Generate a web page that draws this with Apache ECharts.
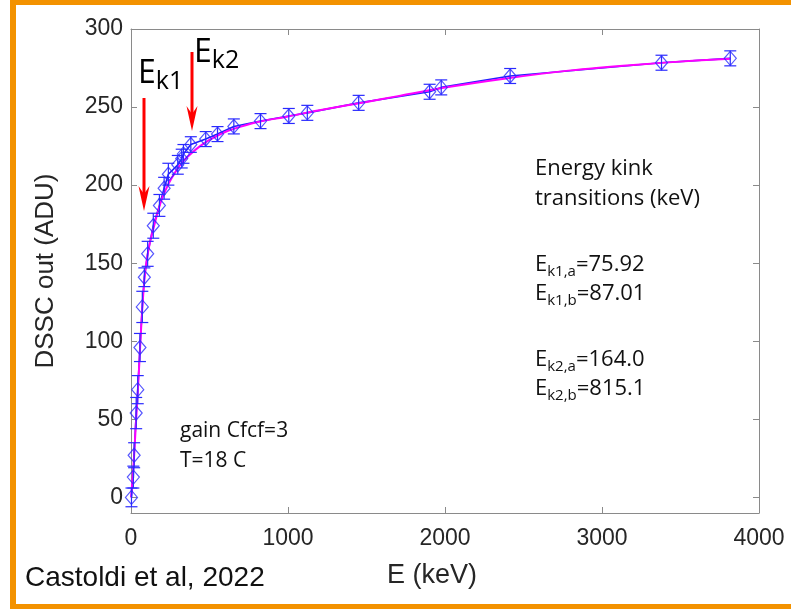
<!DOCTYPE html>
<html>
<head>
<meta charset="utf-8">
<script src="https://cdn.jsdelivr.net/npm/echarts@6/dist/echarts.min.js"></script>
<style>html,body{margin:0;padding:0;background:#fff;}#c{width:791px;height:609px;}</style>
</head>
<body>
<div id="c"></div>
<script>
// ---- data ----
const energyKeV = [3, 15, 20, 33, 43, 57, 72, 85, 106, 142, 181, 211, 238, 298, 323, 334, 381, 476, 551, 655, 825, 1005, 1123, 1450, 1902, 1976, 2415, 3379, 3817];
const dsscADU   = [0, 13, 27, 54, 69, 96, 122, 141, 156, 174, 187, 198, 207, 213, 217, 220, 226, 229.5, 232.7, 237.6, 241, 244.3, 246.3, 252.7, 259.8, 262.6, 269.9, 278.4, 281.2];
const errADU    = [6, 7, 8, 10, 9, 9, 10, 6, 8, 8, 7, 7, 7, 6, 6, 6, 5, 4.8, 4.8, 4.8, 4.8, 4.8, 4.8, 4.8, 4.8, 4.8, 4.8, 4.8, 4.8];
const fitE   = [0, 10, 20, 30, 40, 50, 60, 70, 80, 90, 100, 120, 140, 160, 180, 200, 240, 280, 330, 380, 440, 500, 600, 700, 800, 1000, 1200, 1500, 1700, 2000, 2400, 2800, 3200, 3600, 3820];
const fitADU = [0, 12, 27, 45, 62, 80, 100, 118, 133, 144, 152, 163, 171, 179, 186, 192, 201, 208, 215, 220, 225, 229, 234, 237.5, 240.3, 244, 248, 253.3, 257, 262.5, 268.5, 273.5, 277, 279.8, 281];
const xTicks = [0, 1000, 2000, 3000, 4000];
const yTicks = [0, 50, 100, 150, 200, 250, 300];
const kinkLines = [['Energy kink'], ['transitions (keV)'], ['k1,a', '=75.92'], ['k1,b', '=87.01'], ['k2,a', '=164.0'], ['k2,b', '=815.1']];

const chart = echarts.init(document.getElementById('c'), null, {renderer: 'canvas'});
const frame = '#8a8a8a';
const labelFont = 'Liberation Sans';
const annFont = 'Open Sans';

const pts = energyKeV.map((e, i) => [e, dsscADU[i]]);
const errData = energyKeV.map((e, i) => [e, dsscADU[i] - errADU[i], dsscADU[i] + errADU[i]]);
const fitData = fitE.map((e, i) => [e, fitADU[i]]);

const tickCommon = {show: true, inside: true, length: 6, lineStyle: {color: frame, width: 1}};

function kinkText(line) {
  if (line.length === 1) return line[0];
  return '{e|E}{s|' + line[0] + '}{e|' + line[1] + '}';
}
const lineTops = [158, 188, 254, 283, 349, 378];
const rightTexts = kinkLines.map((ln, i) => ({
  type: 'text', left: 535, top: lineTops[i], z: 100,
  style: {
    text: kinkText(ln), fill: '#111', font: '22px "' + annFont + '"',
    rich: {
      e: {fontSize: 22, fontFamily: annFont, lineHeight: 28, fill: '#111'},
      s: {fontSize: 15, fontFamily: annFont, lineHeight: 14, verticalAlign: 'bottom', fill: '#111'}
    }
  }
}));

function arrow(x, yTop, yTip) {
  return [
    {type: 'line', z: 100, shape: {x1: x, y1: yTop, x2: x, y2: yTip - 16}, style: {stroke: '#ff0000', lineWidth: 3}},
    {type: 'polygon', z: 100, shape: {points: [[x - 5.5, yTip - 25], [x, yTip - 17], [x + 5.5, yTip - 25], [x, yTip]]}, style: {fill: '#ff0000'}}
  ];
}

const option = {
  animation: false,
  backgroundColor: '#fff',
  grid: {left: 131, right: 32, top: 29, bottom: 96, show: false},
  xAxis: [{
    type: 'value', min: 0, max: 4000, interval: 1000, position: 'bottom',
    axisLine: {show: true, onZero: false, lineStyle: {color: frame, width: 1}},
    axisTick: tickCommon, splitLine: {show: false},
    axisLabel: {show: true, fontFamily: labelFont, fontSize: 23, color: '#262626', margin: 14,
      customValues: xTicks, formatter: function (v) { return String(v); }}
  }, {
    type: 'value', min: 0, max: 4000, interval: 1000, position: 'top',
    axisLine: {show: true, onZero: false, lineStyle: {color: frame, width: 1}},
    axisTick: tickCommon, axisLabel: {show: false}, splitLine: {show: false}
  }],
  yAxis: [{
    type: 'value', min: -10, max: 300, position: 'left',
    axisLine: {show: true, onZero: false, lineStyle: {color: frame, width: 1}},
    axisTick: Object.assign({customValues: yTicks}, tickCommon), splitLine: {show: false},
    axisLabel: {show: true, fontFamily: labelFont, fontSize: 23, color: '#262626', margin: 8,
      customValues: yTicks, formatter: function (v) { return String(v); }}
  }, {
    type: 'value', min: -10, max: 300, position: 'right',
    axisLine: {show: true, onZero: false, lineStyle: {color: frame, width: 1}},
    axisTick: Object.assign({customValues: yTicks}, tickCommon), axisLabel: {show: false}, splitLine: {show: false}
  }],
  series: [
    {
      type: 'line', data: pts, showSymbol: false, symbol: 'none', z: 2,
      lineStyle: {color: '#2020ff', width: 1.6}
    },
    {
      type: 'line', data: fitData, showSymbol: false, symbol: 'none', z: 3, smooth: 0.3,
      lineStyle: {color: '#ff00ff', width: 2}
    },
    {
      type: 'custom', data: errData, z: 4,
      renderItem: function (params, api) {
        const x = api.value(0);
        const p1 = api.coord([x, api.value(1)]);
        const p2 = api.coord([x, api.value(2)]);
        const w = 6;
        const st = {stroke: '#2a2aff', lineWidth: 1.2};
        return {type: 'group', children: [
          {type: 'line', shape: {x1: p1[0], y1: p1[1], x2: p2[0], y2: p2[1]}, style: st},
          {type: 'line', shape: {x1: p1[0] - w, y1: p1[1], x2: p1[0] + w, y2: p1[1]}, style: st},
          {type: 'line', shape: {x1: p2[0] - w, y1: p2[1], x2: p2[0] + w, y2: p2[1]}, style: st}
        ]};
      }
    },
    {
      type: 'scatter', data: pts, symbol: 'diamond', symbolSize: [12, 14], z: 5,
      itemStyle: {color: 'rgba(0,0,0,0)', borderColor: '#2a2aff', borderWidth: 1.2}
    }
  ],
  graphic: [
    {type: 'rect', shape: {x: 10, y: 0, width: 781, height: 5}, style: {fill: '#f39200'}, z: 200},
    {type: 'rect', shape: {x: 10, y: 0, width: 6, height: 609}, style: {fill: '#f39200'}, z: 200},
    {type: 'rect', shape: {x: 10, y: 604, width: 781, height: 5}, style: {fill: '#f39200'}, z: 200},
    {type: 'text', x: 46, y: 271, rotation: Math.PI / 2, z: 100,
      style: {text: 'DSSC out (ADU)', fill: '#262626', font: '26px "Liberation Sans"', align: 'center', verticalAlign: 'middle'}},
    {type: 'text', x: 432, y: 576, z: 100,
      style: {text: 'E (keV)', fill: '#262626', font: '27px "Liberation Sans"', align: 'center', verticalAlign: 'middle'}},
    {type: 'text', x: 25, y: 578, z: 100,
      style: {text: 'Castoldi et al, 2022', fill: '#111', font: '28px "Liberation Sans"', align: 'left', verticalAlign: 'middle'}},
    {type: 'text', left: 180, top: 416, z: 100,
      style: {text: 'gain Cfcf=3\nT=18 C', fill: '#111', font: '21px "' + annFont + '"', lineHeight: 30}},
    {type: 'text', left: 138, top: 58, z: 100,
      style: {text: '{e|E}{s|k1}', rich: {
        e: {fontSize: 32, fontFamily: annFont, lineHeight: 40, fill: '#000'},
        s: {fontSize: 25, fontFamily: annFont, lineHeight: 24, verticalAlign: 'bottom', fill: '#000'}}}},
    {type: 'text', left: 194, top: 37, z: 100,
      style: {text: '{e|E}{s|k2}', rich: {
        e: {fontSize: 32, fontFamily: annFont, lineHeight: 40, fill: '#000'},
        s: {fontSize: 25, fontFamily: annFont, lineHeight: 24, verticalAlign: 'bottom', fill: '#000'}}}}
  ].concat(rightTexts, arrow(144, 98, 211), arrow(192, 52, 131))
};
chart.setOption(option);
</script>
</body>
</html>
